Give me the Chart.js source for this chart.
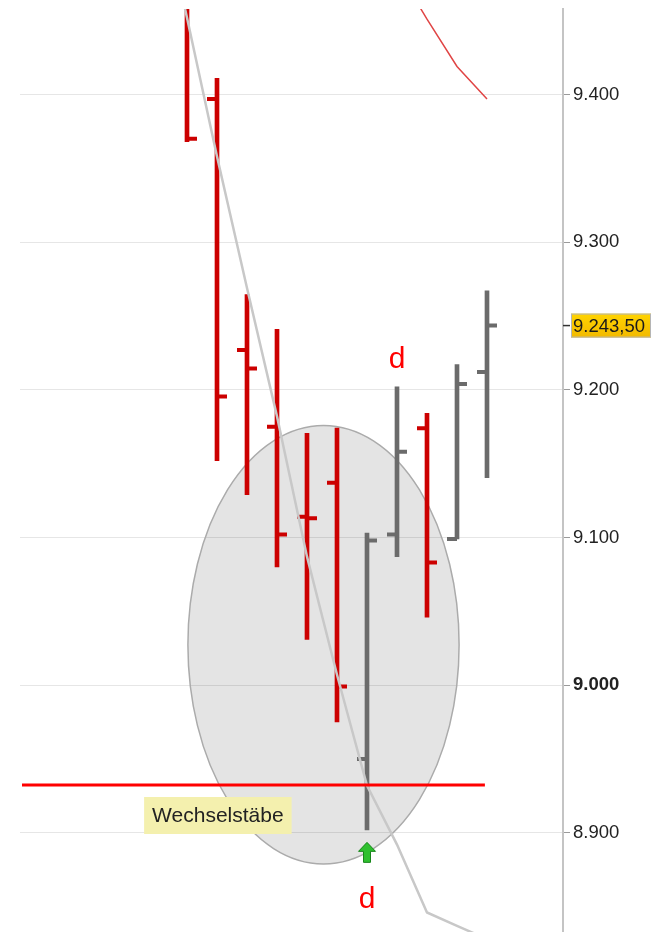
<!DOCTYPE html>
<html>
<head>
<meta charset="utf-8">
<script src="https://cdn.jsdelivr.net/npm/chart.js@4.4.1/dist/chart.umd.min.js"></script>
<style>
    html, body { margin: 0; padding: 0; background: #fff; }
    #wrap { width: 661px; height: 932px; position: relative; }
</style>
</head>
<body>
<div id="wrap"><canvas id="chart"></canvas></div>
<script>
'use strict';
// Tagesbalken (OHLC), Index 0 = erster sichtbarer Balken
const BARS  = [0, 1, 2, 3, 4, 5, 6, 7, 8, 9, 10];
const OPEN  = [9465, 9397, 9227, 9175, 9114, 9137, 8950, 9102, 9174, 9099, 9212];
const HIGH  = [9470, 9411, 9264.5, 9241, 9170.5, 9174, 9103, 9202, 9184, 9217, 9267];
const LOW   = [9368, 9152, 9129, 9080, 9031, 8975, 8902, 9087, 9046, 9099, 9140.5];
const CLOSE = [9370, 9195.5, 9214.5, 9102, 9113, 8999, 9098, 9158, 9083, 9204, 9243.5];

// gleitender Durchschnitt (grau) und obere Linie (rot)
const MA_X    = [-1, 0, 1, 2, 3, 4, 5, 6, 7, 8, 9, 10];
const MA      = [9544, 9452, 9358, 9269, 9182, 9087, 9007, 8932, 8892, 8846, 8837, 8828];
const UPPER_X = [7, 8, 9, 10];
const UPPER   = [9485, 9451, 9419, 9397];

// Unterstützung (rote Horizontale)
const SUPPORT_X = [-5.5, 9.93];
const SUPPORT   = [8932.3, 8932.3];

const Y_TICKS = [8900, 9000, 9100, 9200, 9300, 9400];
const LAST_PRICE = 9243.5;

// Markierungen
const NOTE_TEXT = 'Wechselstäbe';
const NOTE_AT = { x: -1.43, y: 8911.7 };
const D_MARKS = [{ x: 7, y: 9215 }, { x: 6, y: 8849 }];
const ARROW_AT = { x: 6, y: 8893.5 };
const ELLIPSE = { x: 4.55, y: 9027.4, rx: 4.52, ry: 148.5 };

const RED = '#cc0000';
const GRAY = '#6b6b6b';
const FONT = "'Liberation Sans', Arial, sans-serif";

function colorOf(i) { return CLOSE[i] >= OPEN[i] ? GRAY : RED; }

const ellipsePlugin = {
    id: 'ellipse',
    beforeDatasetsDraw(chart) {
        const { ctx, scales: { x, y } } = chart;
        const cx = x.getPixelForValue(ELLIPSE.x), cy = y.getPixelForValue(ELLIPSE.y);
        const rx = x.getPixelForValue(ELLIPSE.x + ELLIPSE.rx) - cx;
        const ry = cy - y.getPixelForValue(ELLIPSE.y + ELLIPSE.ry);
        ctx.save();
        ctx.beginPath();
        ctx.ellipse(cx, cy, rx, ry, 0, 0, Math.PI * 2);
        ctx.fillStyle = 'rgba(0,0,0,0.105)';
        ctx.fill();
        ctx.strokeStyle = '#ababab';
        ctx.lineWidth = 1.5;
        ctx.stroke();
        ctx.restore();
    },
};

const ohlcTicks = {
    id: 'ohlcTicks',
    afterDatasetDraw(chart, args) {
        if (args.index !== 0) return;
        const { ctx, chartArea: a, scales: { x, y } } = chart;
        ctx.save();
        ctx.beginPath();
        ctx.rect(a.left, a.top, a.width, a.height);
        ctx.clip();
        ctx.lineWidth = 4;
        BARS.forEach((b, i) => {
            const px = x.getPixelForValue(b);
            const yo = y.getPixelForValue(OPEN[i]);
            const yc = y.getPixelForValue(CLOSE[i]);
            ctx.strokeStyle = colorOf(i);
            ctx.beginPath();
            ctx.moveTo(px - 10, yo); ctx.lineTo(px, yo);
            ctx.moveTo(px, yc); ctx.lineTo(px + 10, yc);
            ctx.stroke();
        });
        ctx.restore();
    },
};

const marks = {
    id: 'marks',
    afterDraw(chart) {
        const { ctx, chartArea: a, scales: { x, y } } = chart;
        ctx.save();

        // "d"
        ctx.font = '30px ' + FONT;
        ctx.fillStyle = '#ff0000';
        ctx.textAlign = 'center';
        ctx.textBaseline = 'alphabetic';
        D_MARKS.forEach(m => ctx.fillText('d', x.getPixelForValue(m.x), y.getPixelForValue(m.y)));

        // grüner Pfeil
        const ax = x.getPixelForValue(ARROW_AT.x), ay = y.getPixelForValue(ARROW_AT.y);
        ctx.beginPath();
        ctx.moveTo(ax, ay);
        ctx.lineTo(ax + 8.5, ay + 9);
        ctx.lineTo(ax + 3.5, ay + 9);
        ctx.lineTo(ax + 3.5, ay + 20);
        ctx.lineTo(ax - 3.5, ay + 20);
        ctx.lineTo(ax - 3.5, ay + 9);
        ctx.lineTo(ax - 8.5, ay + 9);
        ctx.closePath();
        ctx.fillStyle = '#2fc02f';
        ctx.fill();
        ctx.strokeStyle = '#17861a';
        ctx.lineWidth = 1;
        ctx.stroke();

        // Notiz
        ctx.font = '21px ' + FONT;
        ctx.textAlign = 'left';
        ctx.textBaseline = 'middle';
        const nx = x.getPixelForValue(NOTE_AT.x), ny = y.getPixelForValue(NOTE_AT.y);
        const tw = ctx.measureText(NOTE_TEXT).width;
        ctx.fillStyle = '#f4f0ae';
        ctx.fillRect(nx, ny - 18.5, tw + 16, 37);
        ctx.fillStyle = '#222';
        ctx.fillText(NOTE_TEXT, nx + 8, ny + 1);

        // Kurs-Label rechts
        const py = y.getPixelForValue(LAST_PRICE);
        ctx.strokeStyle = '#333';
        ctx.lineWidth = 1.5;
        ctx.beginPath();
        ctx.moveTo(a.right, py); ctx.lineTo(a.right + 7, py);
        ctx.stroke();
        const bx = a.right + 8, bw = 80, bh = 24;
        const g = ctx.createLinearGradient(0, py - bh / 2, 0, py + bh / 2);
        g.addColorStop(0, '#ffd400');
        g.addColorStop(1, '#f2b900');
        ctx.fillStyle = g;
        ctx.fillRect(bx, py - bh / 2, bw, bh);
        ctx.strokeStyle = '#b5b5b5';
        ctx.lineWidth = 1;
        ctx.strokeRect(bx + 0.5, py - bh / 2 + 0.5, bw - 1, bh - 1);
        ctx.font = '18.5px ' + FONT;
        ctx.fillStyle = '#1a1a1a';
        ctx.fillText(LAST_PRICE.toFixed(2).replace('.', ',').replace(/^(\d)/, '$1.'), bx + 2, py + 1);

        ctx.restore();
    },
};

new Chart(document.getElementById('chart'), {
    type: 'line',
    data: {
        datasets: [
            {
                type: 'bar',
                data: BARS.map((b, i) => ({ x: b, y: [LOW[i], HIGH[i]] })),
                backgroundColor: BARS.map((_, i) => colorOf(i)),
                barThickness: 4,
                grouped: false,
                order: 3,
            },
            {
                data: MA_X.map((v, i) => ({ x: v, y: MA[i] })),
                borderColor: '#c8c8c8',
                borderWidth: 2.5,
                pointRadius: 0,
                order: 2,
            },
            {
                data: UPPER_X.map((v, i) => ({ x: v, y: UPPER[i] })),
                borderColor: '#e04545',
                borderWidth: 1.5,
                pointRadius: 0,
                order: 1,
            },
            {
                data: SUPPORT_X.map((v, i) => ({ x: v, y: SUPPORT[i] })),
                borderColor: '#ff0000',
                borderWidth: 3,
                pointRadius: 0,
                order: 0,
            },
        ],
    },
    options: {
        responsive: true,
        maintainAspectRatio: false,
        animation: false,
        layout: { padding: { left: 20, top: 9, right: 0, bottom: 0 } },
        plugins: { legend: { display: false }, tooltip: { enabled: false } },
        scales: {
            x: { type: 'linear', min: -5.5667, max: 12.5333, offset: false, display: false },
            y: {
                position: 'right',
                min: 8832.8,
                max: 9457.9,
                afterBuildTicks: s => { s.ticks = Y_TICKS.map(v => ({ value: v })); },
                afterFit: s => { s.width = 98; s.paddingTop = 0; s.paddingBottom = 0; },
                border: { display: true, color: '#c4c4c4', width: 2 },
                grid: { color: '#e6e6e6', lineWidth: 1, tickColor: '#9a9a9a', tickLength: 7 },
                ticks: {
                    padding: 3,
                    color: '#222',
                    font: c => ({ family: FONT, size: 18.5, weight: c.tick && c.tick.value === 9000 ? 'bold' : 'normal' }),
                    callback: v => (v / 1000).toFixed(3),
                },
            },
        },
    },
    plugins: [ellipsePlugin, ohlcTicks, marks],
});
</script>
</body>
</html>
